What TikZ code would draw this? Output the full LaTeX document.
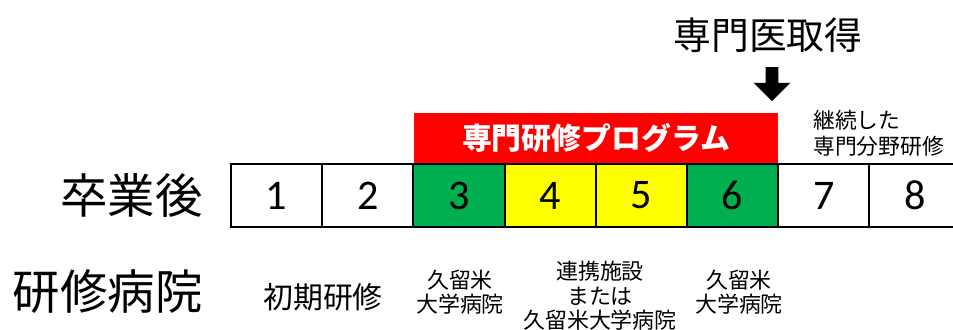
\documentclass[tikz,border=0pt]{standalone}
\usepackage{fontspec}
\setmainfont{Noto Sans CJK JP}
\newfontfamily\numfont{Carlito}
\usetikzlibrary{shapes.arrows}
\definecolor{progred}{HTML}{FF0000}
\definecolor{progyellow}{HTML}{FFFF00}
\definecolor{proggreen}{HTML}{00B050}
\tikzset{
  cell/.style={draw, line width=1.1pt, minimum width=1.824cm, minimum height=1.26cm, inner sep=0pt, font=\numfont\fontsize{24}{24}\selectfont},
  place/.style={align=center, inner sep=0pt, font=\fontsize{12.5}{14}\selectfont},
  rowlabel/.style={anchor=east, inner sep=0pt, font=\fontsize{27}{27}\selectfont}
}
\begin{document}
\begin{tikzpicture}[x=0.02cm, y=-0.02cm]
    \useasboundingbox (0,0) rectangle (953,329);
    \node[inner sep=0pt, font=\fontsize{21.5}{21.5}\selectfont] (goal) at (768,35) {専門医取得};
    \node[single arrow, fill=black, shape border rotate=270, inner sep=0.12cm, minimum height=0.68cm, single arrow head extend=0.24cm] (goalarrow) at (772,81) {};
    \node[fill=progred, minimum width=7.28cm, minimum height=1.0cm, inner sep=0pt, text=white, font=\bfseries\fontsize{17}{17}\selectfont] (program) at (596,138) {専門研修プログラム};
    \node[inner sep=0pt, align=left, anchor=west, font=\fontsize{12.4}{14.7}\selectfont] (cont) at (813,133) {継続した\\専門分野研修};

    \node[rowlabel] (after) at (203,196) {卒業後};
    \node[cell] (c1) at (276.6,195.5) {1};
    \node[cell] (c2) at (367.8,195.5) {2};
    \node[cell, fill=proggreen] (c3) at (459.0,195.5) {3};
    \node[cell, fill=progyellow] (c4) at (550.2,195.5) {4};
    \node[cell, fill=progyellow] (c5) at (641.4,195.5) {5};
    \node[cell, fill=proggreen] (c6) at (732.6,195.5) {6};
    \node[cell] (c7) at (823.8,195.5) {7};
    \node[cell] (c8) at (915.0,195.5) {8};

    \node[rowlabel] (hosp) at (203,292) {研修病院};
    \node[place, font=\fontsize{17}{17}\selectfont] (initial) at (323,297) {初期研修};
    \node[place] (univa) at (460,292) {久留米\\大学病院};
    \node[place] (partner) at (600,296) {連携施設\\または\\久留米大学病院};
    \node[place] (univb) at (739,292) {久留米\\大学病院};
\end{tikzpicture}
\end{document}
